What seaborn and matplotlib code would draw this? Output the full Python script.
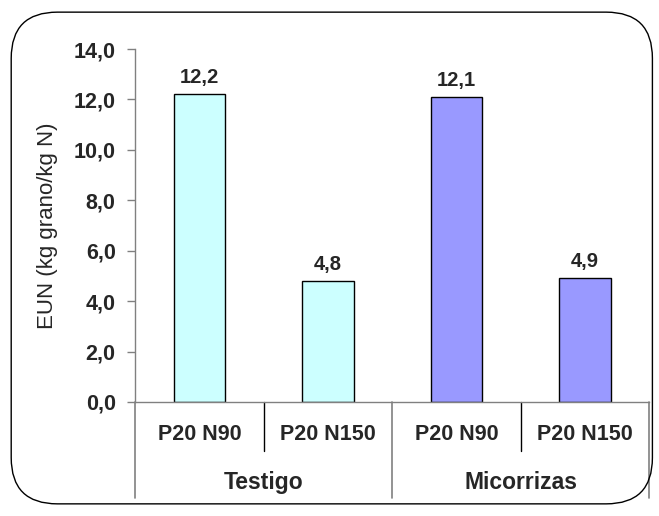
import numpy as np
import pandas as pd
import matplotlib.pyplot as plt
import seaborn as sns
from matplotlib.patches import FancyBboxPatch
from matplotlib.ticker import FuncFormatter, MultipleLocator

# Data
groups = ["Testigo", "Testigo", "Micorrizas", "Micorrizas"]
treatments = ["P20 N90", "P20 N150", "P20 N90", "P20 N150"]
eun = [12.2, 4.8, 12.1, 4.9]
colors = ["#CCFFFF", "#CCFFFF", "#9999FF", "#9999FF"]

df = pd.DataFrame({"grupo": groups, "trat": treatments, "eun": eun})
df["pos"] = [f"{g}|{t}" for g, t in zip(groups, treatments)]

sns.set_style("white")
plt.rcParams["font.family"] = ["Liberation Sans", "DejaVu Sans"]

fig = plt.figure(figsize=(6.59, 5.16), dpi=100)
ax = fig.add_axes([0.205, 0.221, 0.78, 0.684])

sns.barplot(data=df, x="pos", y="eun", hue="pos", palette=colors, legend=False,
            width=0.4, saturation=1, edgecolor="black", linewidth=1, ax=ax)

ax.set_ylim(0, 14)
ax.set_xlim(-0.5, len(eun) - 0.5)
ax.yaxis.set_major_locator(MultipleLocator(2))
ax.yaxis.set_major_formatter(FuncFormatter(lambda v, p: f"{v:.1f}".replace(".", ",")))
for lab in ax.get_yticklabels():
    lab.set_fontweight("bold")
ax.tick_params(axis="y", labelsize=15.5, length=6, width=1, color="#808080",
               direction="out", left=True, pad=8)
ax.tick_params(axis="x", bottom=False, labelbottom=False)
ax.set_xlabel("")
ax.set_ylabel("EUN (kg grano/kg N)", fontsize=16)
ax.yaxis.set_label_coords(-0.15, 0.5)

sns.despine(ax=ax)
for s in ["left", "bottom"]:
    ax.spines[s].set_color("#808080")
    ax.spines[s].set_linewidth(1)

# value labels
for i, v in enumerate(eun):
    ax.text(i, v + 0.28, f"{v:.1f}".replace(".", ","), ha="center", va="bottom",
            fontsize=14.5, fontweight="bold")

# two-level category axis
tr = ax.get_xaxis_transform()
for i, t in enumerate(treatments):
    ax.text(i, -0.093, t, transform=tr, ha="center", va="center",
            fontsize=15.5, fontweight="bold")
for x in [0.5, 2.5]:
    ax.plot([x, x], [0, -0.139], transform=tr, color="black", lw=1, clip_on=False)
for x in [-0.5, 1.5, 3.5]:
    ax.plot([x, x], [0, -0.272], transform=tr, color="#808080", lw=1.2, clip_on=False)
for gi, g in enumerate(["Testigo", "Micorrizas"]):
    ax.text(gi * 2 + 0.5, -0.229, g, transform=tr, ha="center", va="center",
            fontsize=16.5, fontweight="bold")

# rounded outer frame
frame = FancyBboxPatch((0.017 + 0.045, 0.023 + 0.058), 0.973 - 0.09, 0.954 - 0.116,
                       boxstyle="round,pad=0.045,rounding_size=0.07",
                       transform=fig.transFigure, fill=False,
                       edgecolor="black", linewidth=1, mutation_aspect=659 / 516)
fig.patches.append(frame)

fig.savefig("out.png", dpi=100)
